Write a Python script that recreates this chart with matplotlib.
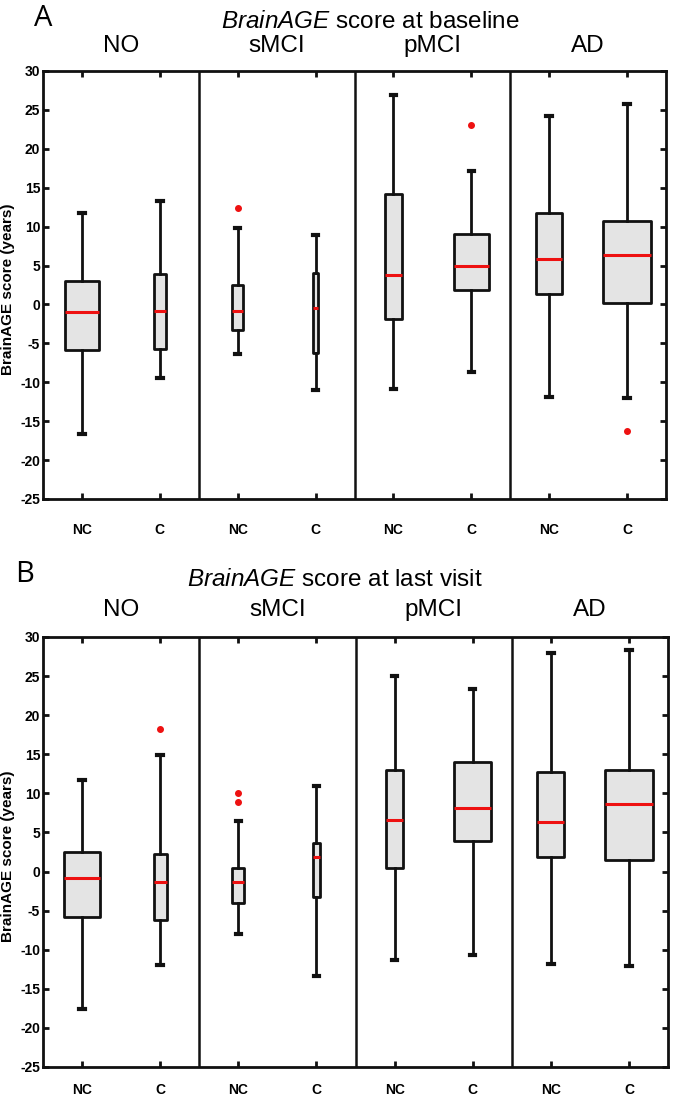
import matplotlib
matplotlib.use("Agg")
import matplotlib.pyplot as plt

# ---------------- data ----------------
groups = ["NO", "sMCI", "pMCI", "AD"]
subgroups = ["NC", "C"]
tick_labels = ["NC", "C"] * 4
yticks = [-25, -20, -15, -10, -5, 0, 5, 10, 15, 20, 25, 30]

# Panel A: baseline  (order: NO-NC, NO-C, sMCI-NC, sMCI-C, pMCI-NC, pMCI-C, AD-NC, AD-C)
a_whislo = [-16.6, -9.4, -6.4, -11.0, -10.9, -8.7, -11.9, -12.0]
a_q1     = [-5.9, -5.7, -3.3, -6.2, -1.9, 1.85, 1.4, 0.2]
a_med    = [-1.0, -0.8, -0.85, -0.4, 3.8, 5.0, 5.9, 6.35]
a_q3     = [3.0, 3.9, 2.5, 4.0, 14.15, 9.1, 11.8, 10.7]
a_whishi = [11.7, 13.3, 9.8, 8.9, 26.9, 17.2, 24.2, 25.8]
a_fliers = [[], [], [12.4], [], [], [23.0], [], [-16.2]]
a_widths = [0.44, 0.15, 0.14, 0.06, 0.21, 0.45, 0.33, 0.61]

# Panel B: last visit
b_whislo = [-17.6, -11.9, -8.0, -13.3, -11.3, -10.7, -11.8, -12.1]
b_q1     = [-5.8, -6.2, -4.0, -3.2, 0.4, 3.9, 1.9, 1.5]
b_med    = [-0.8, -1.3, -1.3, 1.8, 6.6, 8.1, 6.3, 8.7]
b_q3     = [2.5, 2.2, 0.5, 3.6, 13.0, 14.0, 12.7, 13.0]
b_whishi = [11.7, 14.9, 6.5, 10.9, 25.0, 23.3, 28.0, 28.4]
b_fliers = [[], [18.2], [10.1, 8.9], [], [], [], [], []]
b_widths = [0.47, 0.17, 0.15, 0.10, 0.21, 0.47, 0.35, 0.62]

titles = ["score at baseline", "score at last visit"]
panel_letters = ["A", "B"]

# ---------------- figure ----------------
W, H = 674, 1097
plt.rcParams['font.family'] = ['Liberation Sans', 'DejaVu Sans']
plt.rcParams['mathtext.fontset'] = 'custom'
plt.rcParams['mathtext.rm'] = 'Liberation Sans'
plt.rcParams['mathtext.it'] = 'Liberation Sans:italic'
fig = plt.figure(figsize=(W / 100, H / 100), dpi=100)


def fx(px):
    return px / W


def fy(py):
    return 1 - py / H


def make_stats(lo, q1, med, q3, hi, fl):
    return [dict(whislo=lo[i], q1=q1[i], med=med[i], q3=q3[i], whishi=hi[i],
                 fliers=fl[i]) for i in range(len(med))]


panels = [
    dict(top=71, bottom=499, right=666, xpad=17.5,
         stats=make_stats(a_whislo, a_q1, a_med, a_q3, a_whishi, a_fliers),
         widths=a_widths, title_x=370, title_y=22, group_y=46, letter=(43, 18)),
    dict(top=637, bottom=1067, right=668, xpad=11.5,
         stats=make_stats(b_whislo, b_q1, b_med, b_q3, b_whishi, b_fliers),
         widths=b_widths, title_x=335, title_y=580, group_y=610, letter=(25, 575)),
]

left_px = 43
positions = list(range(1, 9))

for k, p in enumerate(panels):
    axw = p["right"] - left_px
    ax = fig.add_axes([fx(left_px), fy(p["bottom"]), fx(axw),
                       (p["bottom"] - p["top"]) / H])
    ax.bxp(p["stats"], positions=positions, widths=p["widths"],
           capwidths=[0.07] * 8, patch_artist=True, showfliers=True,
           boxprops=dict(facecolor="#e4e4e4", edgecolor="#111111", linewidth=2,
                         joinstyle="round"),
           whiskerprops=dict(color="#111111", linewidth=2),
           capprops=dict(color="#111111", linewidth=3),
           medianprops=dict(color="#ee1111", linewidth=2.2),
           flierprops=dict(marker="o", markerfacecolor="#ee1111",
                           markeredgecolor="#ee1111", markersize=4))
    for xd in [2.5, 4.5, 6.5]:
        ax.axvline(xd, color="#111111", linewidth=1.8)
    ax.set_xlim(0.5, 8.5)
    ax.set_ylim(-25, 30)
    ax.set_yticks(yticks)
    ax.set_yticklabels([str(t) for t in yticks], fontsize=10, fontweight="bold")
    ax.set_xticks(positions)
    ax.set_xticklabels(tick_labels, fontsize=10, fontweight="bold")
    ax.tick_params(axis="both", direction="in", top=True, right=True,
                   length=4, width=2, color="#111111")
    ax.tick_params(axis="x", pad=p["xpad"])
    ax.tick_params(axis="y", pad=2)
    for s in ax.spines.values():
        s.set_linewidth(2)
        s.set_color("#111111")
    ax.set_ylabel("BrainAGE score (years)", fontsize=11, fontweight="bold")
    ax.yaxis.set_label_coords((15 - left_px) / axw, 0.49)

    # title (italic BrainAGE + regular rest)
    fig.text(fx(p["title_x"]), fy(p["title_y"]),
             "$\\mathit{BrainAGE}$ " + titles[k],
             ha="center", va="center", fontsize=17.5)
    # group labels
    for g_i, g in enumerate(groups):
        xc = 1.5 + 2 * g_i
        xd = ax.transData.transform((xc, 0))[0]
        xf = fig.transFigure.inverted().transform((xd, 0))[0]
        fig.text(xf, fy(p["group_y"]), g, ha="center", va="center", fontsize=17.5)
    fig.text(fx(p["letter"][0]), fy(p["letter"][1]), panel_letters[k],
             ha="center", va="center", fontsize=21, family=["Open Sans", "DejaVu Sans"])

fig.savefig("out.png", dpi=100)
